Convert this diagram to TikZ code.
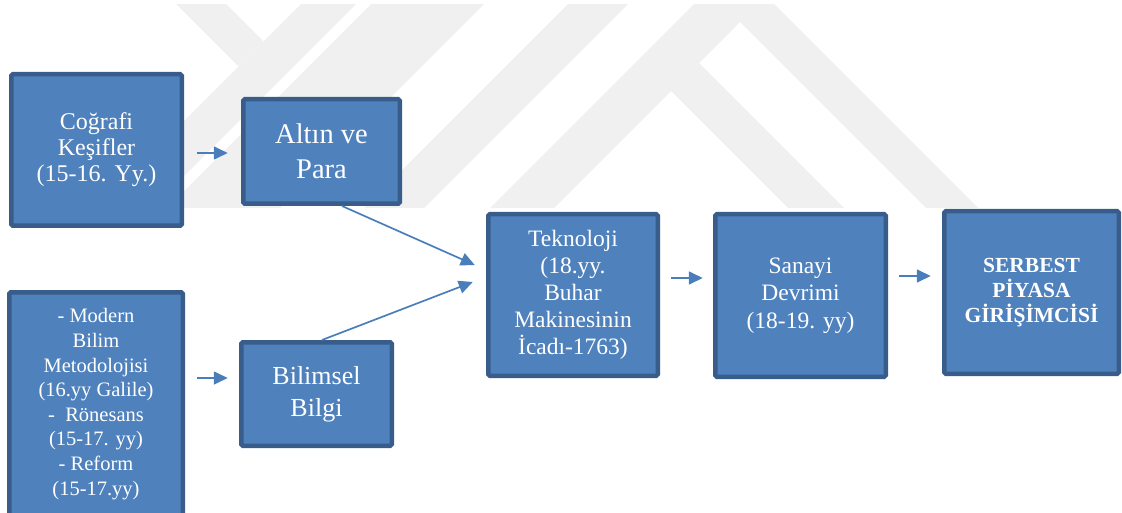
\documentclass[tikz,border=0pt]{standalone}
\usepackage{fontspec}
\setmainfont{Liberation Serif}
\usetikzlibrary{arrows.meta}
\definecolor{boxfill}{HTML}{4F81BD}
\definecolor{boxline}{HTML}{385D8A}
\definecolor{arrowcol}{HTML}{4A7EBB}
\definecolor{wmark}{HTML}{F0F0F0}

\begin{document}
\begin{tikzpicture}[x=1pt,y=-1pt,
  box/.style={draw=boxline, fill=boxfill, line width=4.5pt, rounded corners=1.5pt,
              text=white, align=center, inner sep=0pt},
  link/.style={draw=arrowcol, line width=1.7pt, -{Triangle[length=14pt,width=13pt]}},
]
\useasboundingbox (0,0) rectangle (1122,513);

% faint logo stripes in the background
\begin{scope}
  \clip (0,5) rectangle (1122,208);
  \fill[wmark] (305,0) -- (360,0) -- (145,215) -- (90,215) -- cycle;
  \fill[wmark] (172,0) -- (222,0) -- (263.5,41.5) -- (238.5,66.5) -- cycle;
  \fill[wmark] (375,0) -- (488,0) -- (273,215) -- (160,215) -- cycle;
  \fill[wmark] (572,0) -- (632,0) -- (417,215) -- (357,215) -- cycle;
  \fill[wmark] (698,0) -- (762,0) -- (547,215) -- (483,215) -- cycle;
  \fill[wmark] (718,0) -- (770,0) -- (985,215) -- (933,215) -- cycle;
  \fill[wmark] (698,62) -- (851,215) -- (795,215) -- (670,90) -- cycle;
\end{scope}

% boxes
\node[box, minimum width=170.5pt, minimum height=151.5pt,
      font=\rmfamily\fontsize{24}{26}\selectfont] (cog) at (96.5,150)
  {Coğrafi\\Keşifler\\(15-16. Yy.)};
\node[box, minimum width=156.5pt, minimum height=104.5pt,
      font=\rmfamily\fontsize{28.5}{35}\selectfont] (alt) at (321.5,151.5)
  {Altın ve\\Para};
\node[box, minimum width=173.5pt, minimum height=223.5pt,
      font=\rmfamily\fontsize{20.5}{24.6}\selectfont] (mod) at (96,404)
  {- Modern\\Bilim\\Metodolojisi\\(16.yy Galile)\\-~~Rönesans\\(15-17. yy)\\- Reform\\(15-17.yy)};
\node[box, minimum width=150.5pt, minimum height=103.5pt,
      font=\rmfamily\fontsize{26}{32}\selectfont] (bil) at (316.5,394)
  {Bilimsel\\Bilgi};
\node[box, minimum width=169.5pt, minimum height=161.5pt,
      font=\rmfamily\fontsize{23.5}{27}\selectfont] (tek) at (573,295)
  {Teknoloji\\(18.yy.\\Buhar\\Makinesinin\\İcadı-1763)};
\node[box, minimum width=170.5pt, minimum height=162.5pt,
      font=\rmfamily\fontsize{23.5}{27.5}\selectfont] (san) at (800.5,295.5)
  {Sanayi\\Devrimi\\(18-19. yy)};
\node[box, minimum width=174.5pt, minimum height=162.5pt,
      font=\rmfamily\fontsize{21.5}{25}\selectfont\bfseries] (ser) at (1031.5,292.5)
  {SERBEST\\PİYASA\\GİRİŞİMCİSİ};

% connectors
\draw[link, shorten <=13pt, shorten >=13.25pt]
  ([yshift=-3pt]cog.east) -- ([yshift=-3pt]cog.east -| alt.west);
\draw[link, shorten <=12.25pt, shorten >=11.25pt]
  ([yshift=26pt]mod.east) -- ([yshift=26pt]mod.east -| bil.west);
\draw[link] ([xshift=20.5pt]alt.south) -- ([xshift=-11.25pt,yshift=30pt]tek.west);
\draw[link] ([xshift=5.5pt]bil.north) -- ([xshift=-13.25pt,yshift=13pt]tek.west);
\draw[link, shorten <=11.25pt, shorten >=10.25pt]
  ([yshift=17pt]tek.east) -- ([yshift=17pt]tek.east -| san.west);
\draw[link, shorten <=11.25pt, shorten >=11.25pt]
  ([yshift=19.5pt]san.east) -- ([yshift=19.5pt]san.east -| ser.west);
\end{tikzpicture}
\end{document}
